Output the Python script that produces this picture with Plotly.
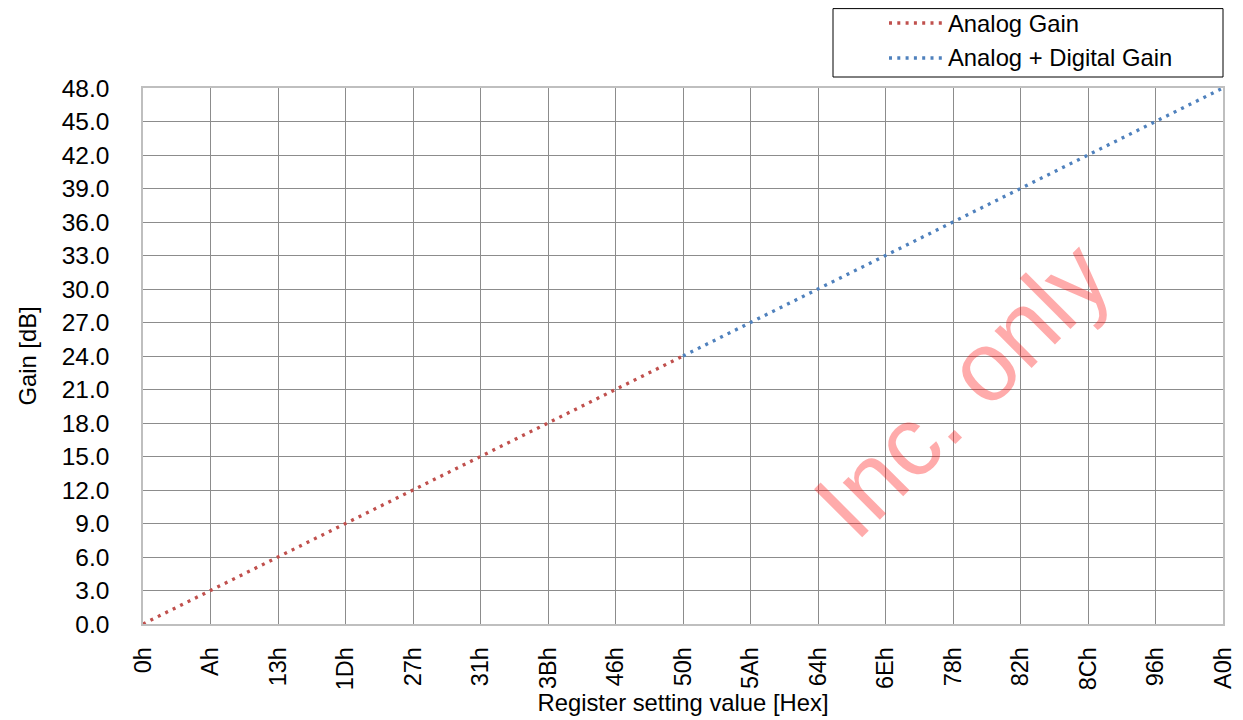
import plotly.graph_objects as go

# Register values (category labels on the x axis)
registers = ['0h', 'Ah', '13h', '1Dh', '27h', '31h', '3Bh', '46h', '50h',
             '5Ah', '64h', '6Eh', '78h', '82h', '8Ch', '96h', 'A0h']

# Gain, in dB
analog_regs = registers[:9]
analog_gain = [0.0, 3.0, 6.0, 9.0, 12.0, 15.0, 18.0, 21.0, 24.0]

digital_regs = registers[8:]
digital_gain = [24.0, 27.0, 30.0, 33.0, 36.0, 39.0, 42.0, 45.0, 48.0]

series_names = ['Analog Gain', 'Analog + Digital Gain']
series_colors = ['#C0504D', '#4F81BD']

font = 'Liberation Sans, Arial, sans-serif'

# the page body has an 8px margin, so the figure is drawn 8px smaller
W, H = 1235, 712
L, T, PW, PH = 135, 80, 1080, 536
DASH = '3px,5.3px'


def px_x(sx):
    # screen x (reference picture) -> paper x
    return (sx - 8 - L) / PW


def px_y(sy):
    # screen y (reference picture) -> paper y
    return (T + 8 + PH - sy) / PH


fig = go.Figure()

fig.add_trace(go.Scatter(
    x=analog_regs, y=analog_gain,
    mode='lines',
    line=dict(color=series_colors[0], width=3.3, dash=DASH),
    name=series_names[0]
))

fig.add_trace(go.Scatter(
    x=digital_regs, y=digital_gain,
    mode='lines',
    line=dict(color=series_colors[1], width=3.3, dash=DASH),
    name=series_names[1]
))

# white outside ticks give the gap between axis and labels
fig.update_xaxes(
    type='category',
    categoryorder='array', categoryarray=registers,
    range=[0, 16],
    tickangle=-90,
    tickfont=dict(size=23.5, color='#000000'),
    ticks='outside', ticklen=12, tickcolor='white', tickwidth=1,
    showgrid=True, gridcolor='#8C8C8C', gridwidth=1,
    showline=True, linecolor='#BFBFBF', linewidth=1.5, mirror=True,
    title=dict(text='Register setting value [Hex]', font=dict(size=23.8, color='#000000'), standoff=4),
    zeroline=False, automargin=False
)

fig.update_yaxes(
    range=[0, 48], dtick=3, tickformat='.1f',
    tickfont=dict(size=24.5, color='#000000'),
    ticks='outside', ticklen=27, tickcolor='white', tickwidth=1,
    showgrid=True, gridcolor='#8C8C8C', gridwidth=1,
    showline=True, linecolor='#BFBFBF', linewidth=1.5, mirror=True,
    title=dict(text='Gain [dB]', font=dict(size=23.8, color='#000000'), standoff=18),
    zeroline=False, automargin=False
)

# legend drawn by hand so it does not push the margins
fig.add_shape(type='rect', xref='paper', yref='paper',
              x0=px_x(833), x1=px_x(1223),
              y0=px_y(77), y1=px_y(8.6),
              line=dict(color='#000000', width=1), fillcolor='rgba(0,0,0,0)')
for i, (name, color) in enumerate(zip(series_names, series_colors)):
    sy = 23 + 35 * i
    fig.add_shape(type='line', xref='paper', yref='paper',
                  x0=px_x(889), x1=px_x(942), y0=px_y(sy), y1=px_y(sy),
                  line=dict(color=color, width=3.3, dash=DASH))
    fig.add_annotation(text=name, xref='paper', yref='paper',
                       x=px_x(946), y=px_y(sy), xanchor='left', yanchor='middle',
                       showarrow=False, font=dict(size=23.8, color='#000000'))

# watermark
fig.add_annotation(
    text='Inc. only', xref='paper', yref='paper',
    x=px_x(961), y=px_y(389),
    xanchor='center', yanchor='middle',
    showarrow=False, textangle=-45,
    font=dict(size=99, color='rgba(255,0,0,0.33)', family=font)
)

fig.update_layout(
    width=W, height=H,
    margin=dict(l=L, r=W - L - PW, t=T, b=H - T - PH),
    paper_bgcolor='white', plot_bgcolor='white',
    font=dict(family=font, color='#000000'),
    showlegend=False
)

fig.write_html('out.html')
